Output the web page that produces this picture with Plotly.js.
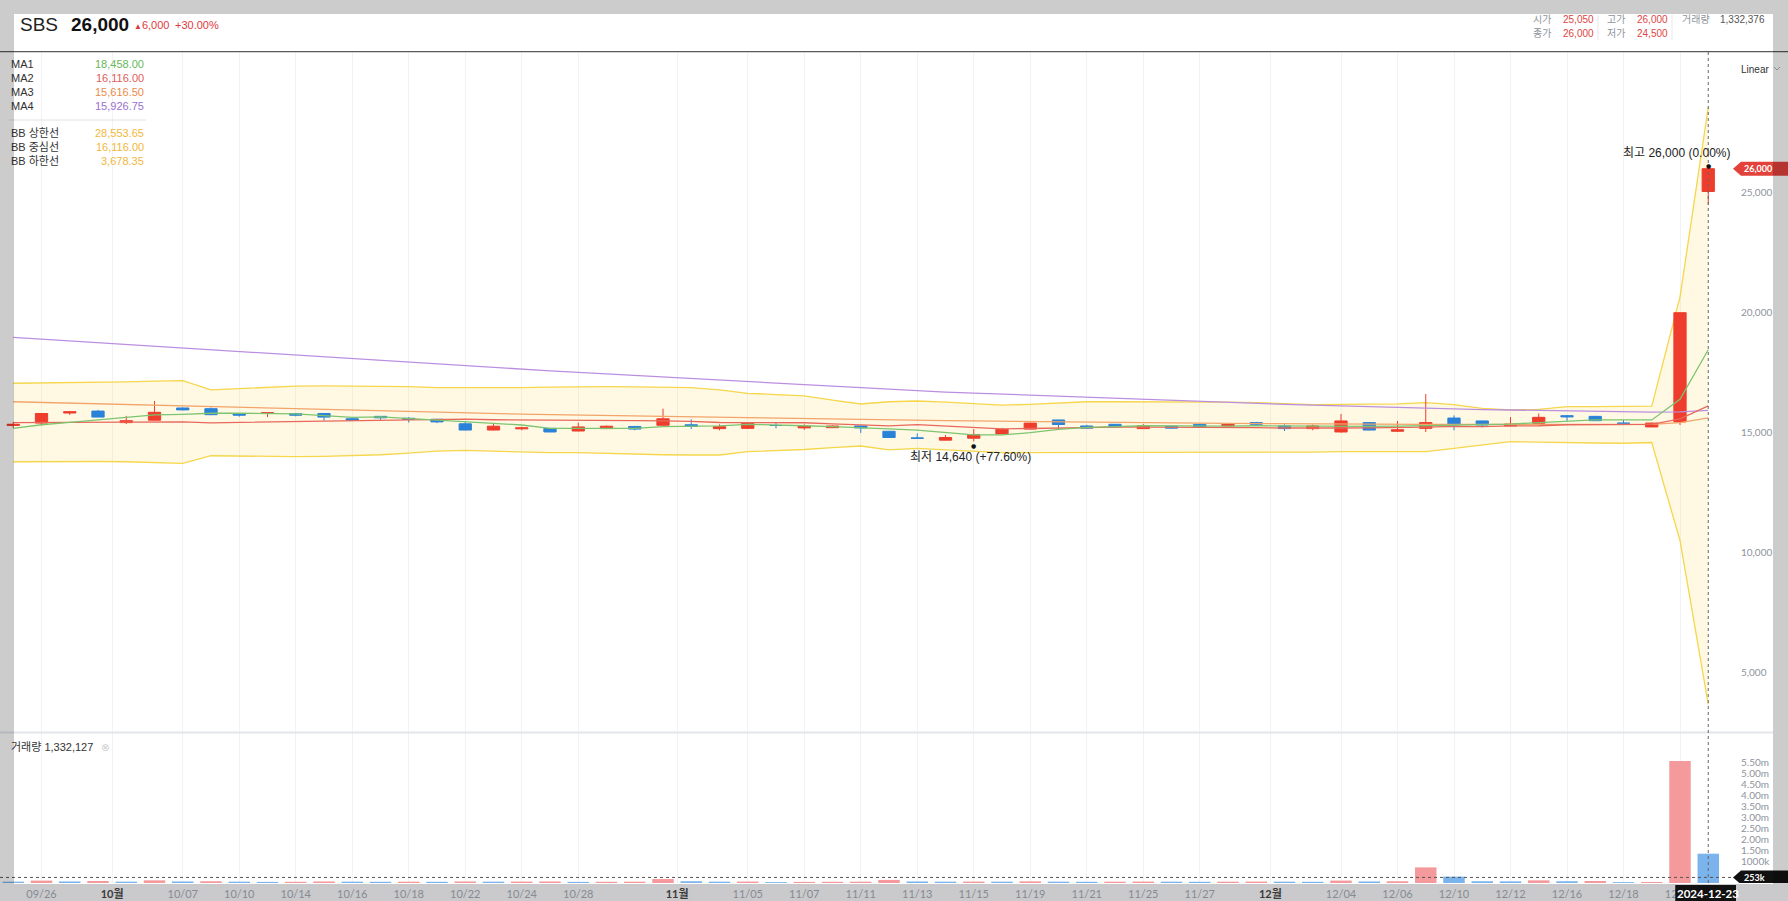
<!DOCTYPE html>
<html><head><meta charset="utf-8">
<script src="https://cdn.plot.ly/plotly-3.0.1.min.js"></script>
<style>
html,body{margin:0;padding:0;background:#fff;width:1788px;height:901px;overflow:hidden}
#chart{position:absolute;left:0;top:0;width:1788px;height:901px}
.ov{position:absolute;background:rgba(0,0,0,0.2);pointer-events:none}
</style></head><body>
<div id="chart"></div>
<div class="ov" style="left:0;top:0;width:1788px;height:14px"></div>
<div class="ov" style="left:0;top:14px;width:14px;height:870px"></div>
<div class="ov" style="left:1773px;top:14px;width:15px;height:870px"></div>
<script>
// ---------- data ----------
const stockName = 'SBS';
const year = '2024';
const dates = ['09/25','09/26','09/27','09/30','10/02','10/04','10/07','10/08','10/10','10/11',
 '10/14','10/15','10/16','10/17','10/18','10/21','10/22','10/23','10/24','10/25',
 '10/28','10/29','10/30','10/31','11/01','11/04','11/05','11/06','11/07','11/08',
 '11/11','11/12','11/13','11/14','11/15','11/18','11/19','11/20','11/21','11/22',
 '11/25','11/26','11/27','11/28','11/29','12/02','12/03','12/04','12/05','12/06',
 '12/09','12/10','12/11','12/12','12/13','12/16','12/17','12/18','12/19','12/20','12/23'];
const open = [15300,15400,15820,15900,15420,15520,16030,16000,15790,15800,
 15790,15800,15580,15680,15600,15560,15370,15110,15160,15180,
 15070,15170,15260,15310,15330,15170,15180,15300,15200,15210,
 15280,15060,14780,14690,14770,14950,15150,15530,15280,15350,
 15170,15270,15350,15280,15420,15280,15170,15030,15420,15060,
 15180,15610,15490,15280,15390,15710,15680,15400,15240,15450,25050];
const high = [15450,15800,15880,15950,15700,16320,16050,16050,15800,15850,
 15830,15810,15650,15690,15650,15570,15480,15360,15250,15190,
 15420,15300,15280,16000,15550,15350,15400,15400,15350,15300,
 15300,15070,14970,14900,15150,15200,15410,15540,15330,15360,
 15360,15290,15360,15360,15450,15350,15340,15780,15430,15490,
 16610,15720,15500,15650,15800,15720,15700,15530,15410,20000,26000];
const low = [15200,15300,15740,15650,15360,15500,15930,15730,15670,15650,
 15680,15500,15510,15540,15420,15400,15100,15100,15100,15020,
 15060,15160,15100,15300,15150,15100,15170,15180,15120,15200,
 14990,14790,14760,14680,14640,14940,15140,15150,15180,15230,
 15160,15170,15230,15270,15300,15070,15100,15000,15100,15030,
 15030,15100,15220,15270,15380,15490,15490,15350,15230,15320,24500];
const close = [15350,15800,15870,15650,15500,15850,15950,15750,15730,15830,
 15730,15650,15520,15620,15560,15450,15110,15270,15200,15030,
 15240,15270,15150,15580,15260,15250,15390,15300,15280,15280,
 15200,14800,14770,14800,14920,15140,15400,15340,15190,15240,
 15280,15190,15240,15350,15350,15170,15280,15490,15110,15120,
 15420,15320,15320,15360,15640,15660,15500,15390,15400,20000,26000];
const volume = [60000,110000,70000,90000,60000,120000,70000,80000,60000,50000,
 55000,70000,60000,55000,60000,55000,70000,60000,65000,70000,
 50000,55000,60000,180000,80000,60000,65000,40000,50000,55000,
 60000,140000,70000,60000,65000,60000,75000,60000,55000,60000,
 65000,60000,55000,60000,65000,60000,55000,110000,70000,80000,
 710000,290000,80000,75000,120000,80000,90000,40000,45000,5550000,1332127];
const ma1 = [15180,15330,15430,15530,15640,15740,15765,15810,15810,15810,
 15780,15710,15640,15660,15585,15530,15460,15390,15320,15180,
 15180,15180,15180,15250,15270,15280,15350,15330,15290,15250,
 15220,15160,15110,15015,14905,14905,15000,15140,15225,15250,
 15290,15280,15270,15270,15290,15280,15270,15250,15260,15270,
 15290,15320,15340,15360,15420,15490,15530,15530,15530,16390,18458];
const ma2 = [15420,15430,15440,15450,15455,15455,15450,15410,15425,15440,
 15470,15480,15490,15510,15535,15555,15565,15540,15535,15535,
 15540,15525,15505,15490,15475,15425,15425,15420,15415,15370,
 15320,15285,15335,15275,15210,15160,15175,15200,15230,15230,
 15230,15230,15230,15220,15210,15195,15180,15195,15200,15205,
 15230,15260,15250,15285,15290,15330,15330,15320,15345,15580,16116];
const ma3 = [16290,16260,16230,16200,16170,16140,16105,16075,16040,16010,
 15980,15950,15920,15890,15860,15830,15810,15790,15770,15750,
 15730,15710,15690,15670,15650,15630,15610,15595,15580,15565,
 15550,15530,15515,15500,15490,15475,15465,15450,15440,15430,
 15420,15410,15400,15390,15380,15375,15365,15360,15355,15350,
 15350,15345,15345,15340,15340,15340,15340,15340,15345,15420,15616.5];
const ma4 = [18970,18895,18820,18745,18670,18595,18520,18445,18370,18295,
 18220,18145,18070,17995,17920,17845,17770,17705,17640,17575,
 17510,17445,17380,17315,17250,17185,17120,17055,16990,16925,
 16860,16795,16730,16690,16650,16605,16560,16520,16475,16430,
 16390,16345,16300,16260,16215,16180,16150,16115,16080,16050,
 16020,15990,15965,15945,15925,15905,15890,15875,15860,15865,15926.75];
const bbUpper = [17060,17070,17080,17100,17120,17150,17170,16780,16830,16880,
 16940,16950,16950,16940,16920,16880,16870,16860,16880,16900,
 16915,16920,16910,16900,16880,16780,16640,16590,16530,16360,
 16195,16290,16320,16270,16200,16150,16180,16230,16290,16290,
 16290,16290,16290,16270,16250,16220,16170,16180,16190,16200,
 16250,16170,16015,15945,15970,16085,16085,16085,16110,20650,28553.65];
const bbLower = [13790,13800,13810,13800,13790,13760,13725,14040,14020,14000,
 14000,14010,14030,14080,14150,14230,14260,14220,14190,14170,
 14170,14130,14100,14080,14070,14070,14210,14250,14300,14380,
 14445,14280,14350,14280,14220,14170,14170,14170,14170,14170,
 14170,14170,14170,14170,14170,14170,14190,14210,14210,14210,
 14210,14350,14480,14625,14610,14580,14570,14560,14590,10510,3678.35];
const tickLabels = ['09/26','10월','10/07','10/10','10/14','10/16','10/18','10/22','10/24','10/28',
 '11월','11/05','11/07','11/11','11/13','11/15','11/19','11/21','11/25','11/27',
 '12월','12/04','12/06','12/10','12/12','12/16','12/18','12/20'];
const priceTicks = [5000,10000,15000,20000,25000];
const volTicks = [1000000,1500000,2000000,2500000,3000000,3500000,4000000,4500000,5000000,5500000];
const volTickText = ['1000k','1.50m','2.00m','2.50m','3.00m','3.50m','4.00m','4.50m','5.00m','5.50m'];
const headerVolume = 1332376;
const crossVolume = 253000;
const crossVolText = '253k';
const maNames = ['MA1','MA2','MA3','MA4'];
const bbNames = ['BB 상한선','BB 중심선','BB 하한선'];

// ---------- styling ----------
const RED='#ee3d2c', BLUE='#2a82d8';
const VRED='#f59a9c', VBLUE='#7bb4ec';
const C_MA=['#7cc46f','#e8695c','#f2a46a','#bb8fe0'];
const C_MAV=['#66b859','#e05d58','#ec8a48','#9a70d2'];
const C_BB='#f5d64c', C_BBV='#f2b73c';
const TXT="'Liberation Sans','Noto Sans CJK KR',sans-serif";
const TICK="Lato,'Noto Sans CJK KR',sans-serif";

const W=1788,H=901,ML=0,MR=52,MT=52,MB=18;
const PW=W-ML-MR, PH=H-MT-MB;
const fx=v=>(v-ML)/PW, fy=v=>1-(v-MT)/PH;
const STEP=28.25, X0=13.25;            // px per trading day, px of first day
const xr=[(0-X0)/STEP,(PW-X0)/STEP];
const yRange=[2529,30862];
const vRange=[0,6818000];
const priceDomain=[(H-MB-732)/PH,1];
const volDomain=[0,(H-MB-733)/PH];

const idx=dates.map((d,i)=>i);
const N=dates.length, last=N-1;
const fmt=v=>v.toLocaleString('en-US');
const fmt2=v=>v.toLocaleString('en-US',{minimumFractionDigits:2,maximumFractionDigits:2});

// tick positions from dates (month label sits at the month boundary)
const tickVals=tickLabels.map(t=>{
  if(t.endsWith('월')){const m=t.replace('월','').padStart(2,'0');
    return dates.findIndex(d=>d.startsWith(m+'/'))-0.5;}
  return dates.indexOf(t);
});
const tickText=tickLabels.map(t=>t.endsWith('월')?'<b><span style="color:#3a3a3a">'+t+'</span></b>':t);

const volColors=volume.map((v,i)=>i===0?VBLUE:(v>volume[i-1]?VRED:VBLUE));

const traces=[
 {type:'scatter',x:idx,y:bbUpper,xaxis:'x',yaxis:'y',mode:'lines',line:{color:C_BB,width:1.3},hoverinfo:'skip'},
 {type:'scatter',x:idx,y:bbLower,xaxis:'x',yaxis:'y',mode:'lines',line:{color:C_BB,width:1.3},fill:'tonexty',fillcolor:'rgba(255,226,120,0.2)',hoverinfo:'skip'},
 {type:'candlestick',x:idx,open:open,high:high,low:low,close:close,xaxis:'x',yaxis:'y3',
  increasing:{line:{color:RED,width:1},fillcolor:RED},decreasing:{line:{color:BLUE,width:1},fillcolor:BLUE},
  whiskerwidth:0,hoverinfo:'skip'},
 {type:'scatter',x:idx,y:ma4,xaxis:'x',yaxis:'y4',mode:'lines',line:{color:C_MA[3],width:1.3},hoverinfo:'skip'},
 {type:'scatter',x:idx,y:ma3,xaxis:'x',yaxis:'y4',mode:'lines',line:{color:C_MA[2],width:1.3},hoverinfo:'skip'},
 {type:'scatter',x:idx,y:ma2,xaxis:'x',yaxis:'y4',mode:'lines',line:{color:C_MA[1],width:1.3},hoverinfo:'skip'},
 {type:'scatter',x:idx,y:ma1,xaxis:'x',yaxis:'y4',mode:'lines',line:{color:C_MA[0],width:1.3},hoverinfo:'skip'},
 {type:'bar',x:idx,y:volume,xaxis:'x',yaxis:'y2',marker:{color:volColors,line:{width:0}},width:0.76,hoverinfo:'skip'}
];

// ---------- annotations ----------
const A=[];
function P(px,py,text,o){o=o||{};A.push({xref:'paper',yref:'paper',x:fx(px),y:fy(py),text:text,showarrow:false,
  xanchor:o.xa||'left',yanchor:'middle',font:{family:o.fam||TXT,size:o.s||11,color:o.c||'#333'}});}

const lastC=close[last], prevC=close[last-1];
const chg=lastC-prevC, chgPct=chg/prevC*100;
P(18,24,stockName,{s:19,c:'#222'});
P(69,25,'<b>'+fmt(lastC)+'</b>',{s:19,c:'#111'});
P(132,24.5,'<span style="font-size:8px">▲</span>'+fmt(chg),{s:11,c:'#e0393e'});
P(173,24.5,'+'+chgPct.toFixed(2)+'%',{s:11,c:'#e0393e'});

const HG='#8e939b', HR='#e0453f';
P(1531,19,'시가',{s:10,c:HG}); P(1561,19,fmt(open[last]),{s:10,c:HR});
P(1605,19,'고가',{s:10,c:HG}); P(1635,19,fmt(high[last]),{s:10,c:HR});
P(1680,19,'거래량',{s:10,c:HG}); P(1718,19,fmt(headerVolume),{s:10,c:'#555'});
P(1531,33.5,'종가',{s:10,c:HG}); P(1561,33.5,fmt(close[last]),{s:10,c:HR});
P(1605,33.5,'저가',{s:10,c:HG}); P(1635,33.5,fmt(low[last]),{s:10,c:HR});

const maArr=[ma1,ma2,ma3,ma4];
maNames.forEach((n,k)=>{const yy=63.5+14.3*k;
  P(9,yy,n,{s:11,c:'#333'}); P(146,yy,fmt2(maArr[k][last]),{s:11,c:C_MAV[k],xa:'right'});});
const bbArr=[bbUpper,ma2,bbLower];
bbNames.forEach((n,k)=>{const yy=132.5+14.2*k;
  P(9,yy,n,{s:11,c:'#333'}); P(146,yy,fmt2(bbArr[k][last]),{s:11,c:C_BBV,xa:'right'});});

P(9,747,'거래량 '+fmt(volume[last]),{s:11,c:'#333'});
P(105,747,'⊗',{s:10,c:'#cfcfcf',xa:'center',fam:'DejaVu Sans'});
P(1739,69,'Linear',{s:10,c:'#333'});

// high / low markers
const maxH=Math.max(...high), iH=high.indexOf(maxH);
const minL=Math.min(...low), iL=low.indexOf(minL);
const pctH=(lastC-maxH)/maxH*100, pctL=(lastC-minL)/minL*100;
const sgn=v=>(v>0?'+':'')+v.toFixed(2)+'%';
A.push({xref:'x',yref:'y',x:iH,y:maxH,text:'●',showarrow:false,yshift:3,yanchor:'middle',font:{size:6,color:'#111',family:'DejaVu Sans'}});
A.push({xref:'x',yref:'y',x:iH,y:maxH,text:'최고 '+fmt(maxH)+' ('+sgn(pctH)+')',showarrow:false,xshift:-32,yshift:16,yanchor:'middle',
  font:{size:12,color:'#222',family:TXT}});
A.push({xref:'x',yref:'y',x:iL,y:minL,text:'●',showarrow:false,yshift:-4,yanchor:'middle',font:{size:6,color:'#111',family:'DejaVu Sans'}});
A.push({xref:'x',yref:'y',x:iL,y:minL,text:'최저 '+fmt(minL)+' ('+sgn(pctL)+')',showarrow:false,xshift:-3,yshift:-16,yanchor:'middle',
  font:{size:12,color:'#222',family:TXT}});

// tags
A.push({xref:'paper',yref:'y',x:fx(1742),y:lastC,text:'<b>'+fmt(lastC)+'</b>',showarrow:false,xanchor:'left',yanchor:'middle',
  font:{size:9,color:'#fff',family:TICK}});
A.push({xref:'paper',yref:'y2',x:fx(1742),y:crossVolume,text:'<b>'+crossVolText+'</b>',showarrow:false,xanchor:'left',yanchor:'middle',
  font:{size:9,color:'#fff',family:TICK}});
A.push({xref:'x',yref:'paper',x:last,y:fy(893),text:'<b>'+year+'-'+dates[last].replace('/','-')+'</b>',showarrow:false,
  xanchor:'center',yanchor:'middle',font:{size:11.5,color:'#fff',family:TICK}});

// ---------- shapes ----------
const S=[];
S.push({type:'rect',xref:'paper',yref:'paper',x0:fx(0),x1:fx(W),y0:fy(884),y1:fy(H),fillcolor:'#cacacc',line:{width:0},layer:'below'});
S.push({type:'line',xref:'paper',yref:'paper',x0:fx(0),x1:fx(W),y0:fy(51.7),y1:fy(51.7),line:{color:'#5a5a5a',width:1.3}});
S.push({type:'line',xref:'paper',yref:'paper',x0:fx(0),x1:fx(1773),y0:fy(732.5),y1:fy(732.5),line:{color:'#e4e6ea',width:2}});
[1598,1672].forEach(v=>S.push({type:'line',xref:'paper',yref:'paper',x0:fx(v),x1:fx(v),y0:fy(15),y1:fy(40),line:{color:'#e8e8e8',width:1}}));
S.push({type:'line',xref:'paper',yref:'paper',x0:fx(9),x1:fx(146),y0:fy(120),y1:fy(120),line:{color:'#e2e2e2',width:1}});
S.push({type:'path',xref:'paper',yref:'paper',
  path:'M '+fx(1774)+','+fy(67)+' L '+fx(1777)+','+fy(70)+' L '+fx(1780)+','+fy(67),line:{color:'#b0b0b0',width:1}});
// crosshair
S.push({type:'line',xref:'x',yref:'paper',x0:last,x1:last,y0:0,y1:1,line:{color:'#666',width:1,dash:'dot'}});
S.push({type:'line',xref:'paper',yref:'y2',x0:0,x1:fx(1733),y0:crossVolume,y1:crossVolume,line:{color:'#555',width:1,dash:'dot'}});
// price tag
S.push({type:'path',xref:'paper',xsizemode:'pixel',xanchor:1,yref:'y',ysizemode:'pixel',yanchor:lastC,
  path:'M -3,0 L 5,7 L 52,7 L 52,-7 L 5,-7 Z',fillcolor:'#e3423b',line:{width:0}});
// volume tag
S.push({type:'path',xref:'paper',xsizemode:'pixel',xanchor:1,yref:'y2',ysizemode:'pixel',yanchor:crossVolume,
  path:'M -3,0 L 5,7 L 52,7 L 52,-7 L 5,-7 Z',fillcolor:'#111',line:{width:0}});
// date tag
S.push({type:'rect',xref:'x',xsizemode:'pixel',xanchor:last,x0:-33,x1:35,yref:'paper',y0:fy(885),y1:fy(H),fillcolor:'#111',line:{width:0}});

const layout={
 width:W,height:H,margin:{l:ML,r:MR,t:MT,b:MB,pad:0},
 paper_bgcolor:'#ffffff',plot_bgcolor:'rgba(0,0,0,0)',
 showlegend:false,hovermode:false,dragmode:false,boxgap:0.38,
 xaxis:{range:xr,anchor:'y2',tickmode:'array',tickvals:tickVals,ticktext:tickText,showgrid:true,gridcolor:'#f0f2f5',gridwidth:1,
   zeroline:false,showline:false,ticks:'',rangeslider:{visible:false},fixedrange:true,ticklabelstandoff:3,
   tickfont:{family:TICK,size:11,color:'#858a93'}},
 yaxis:{domain:priceDomain,range:yRange,side:'right',anchor:'x',tickmode:'array',tickvals:priceTicks,tickformat:',',
   showgrid:false,zeroline:false,showline:false,ticks:'',fixedrange:true,ticklabelstandoff:4,
   tickfont:{family:TICK,size:10,color:'#8e939c'}},
 yaxis2:{domain:volDomain,range:vRange,side:'right',anchor:'x',tickmode:'array',tickvals:volTicks,ticktext:volTickText,
   showgrid:false,zeroline:false,showline:false,ticks:'',fixedrange:true,ticklabelstandoff:4,
   tickfont:{family:TICK,size:10,color:'#8e939c'}},
 yaxis3:{overlaying:'y',range:yRange,visible:false,fixedrange:true},
 yaxis4:{overlaying:'y',range:yRange,visible:false,fixedrange:true},
 annotations:A,shapes:S
};
Plotly.newPlot('chart',traces,layout,{displayModeBar:false,staticPlot:true});
</script>
</body></html>
